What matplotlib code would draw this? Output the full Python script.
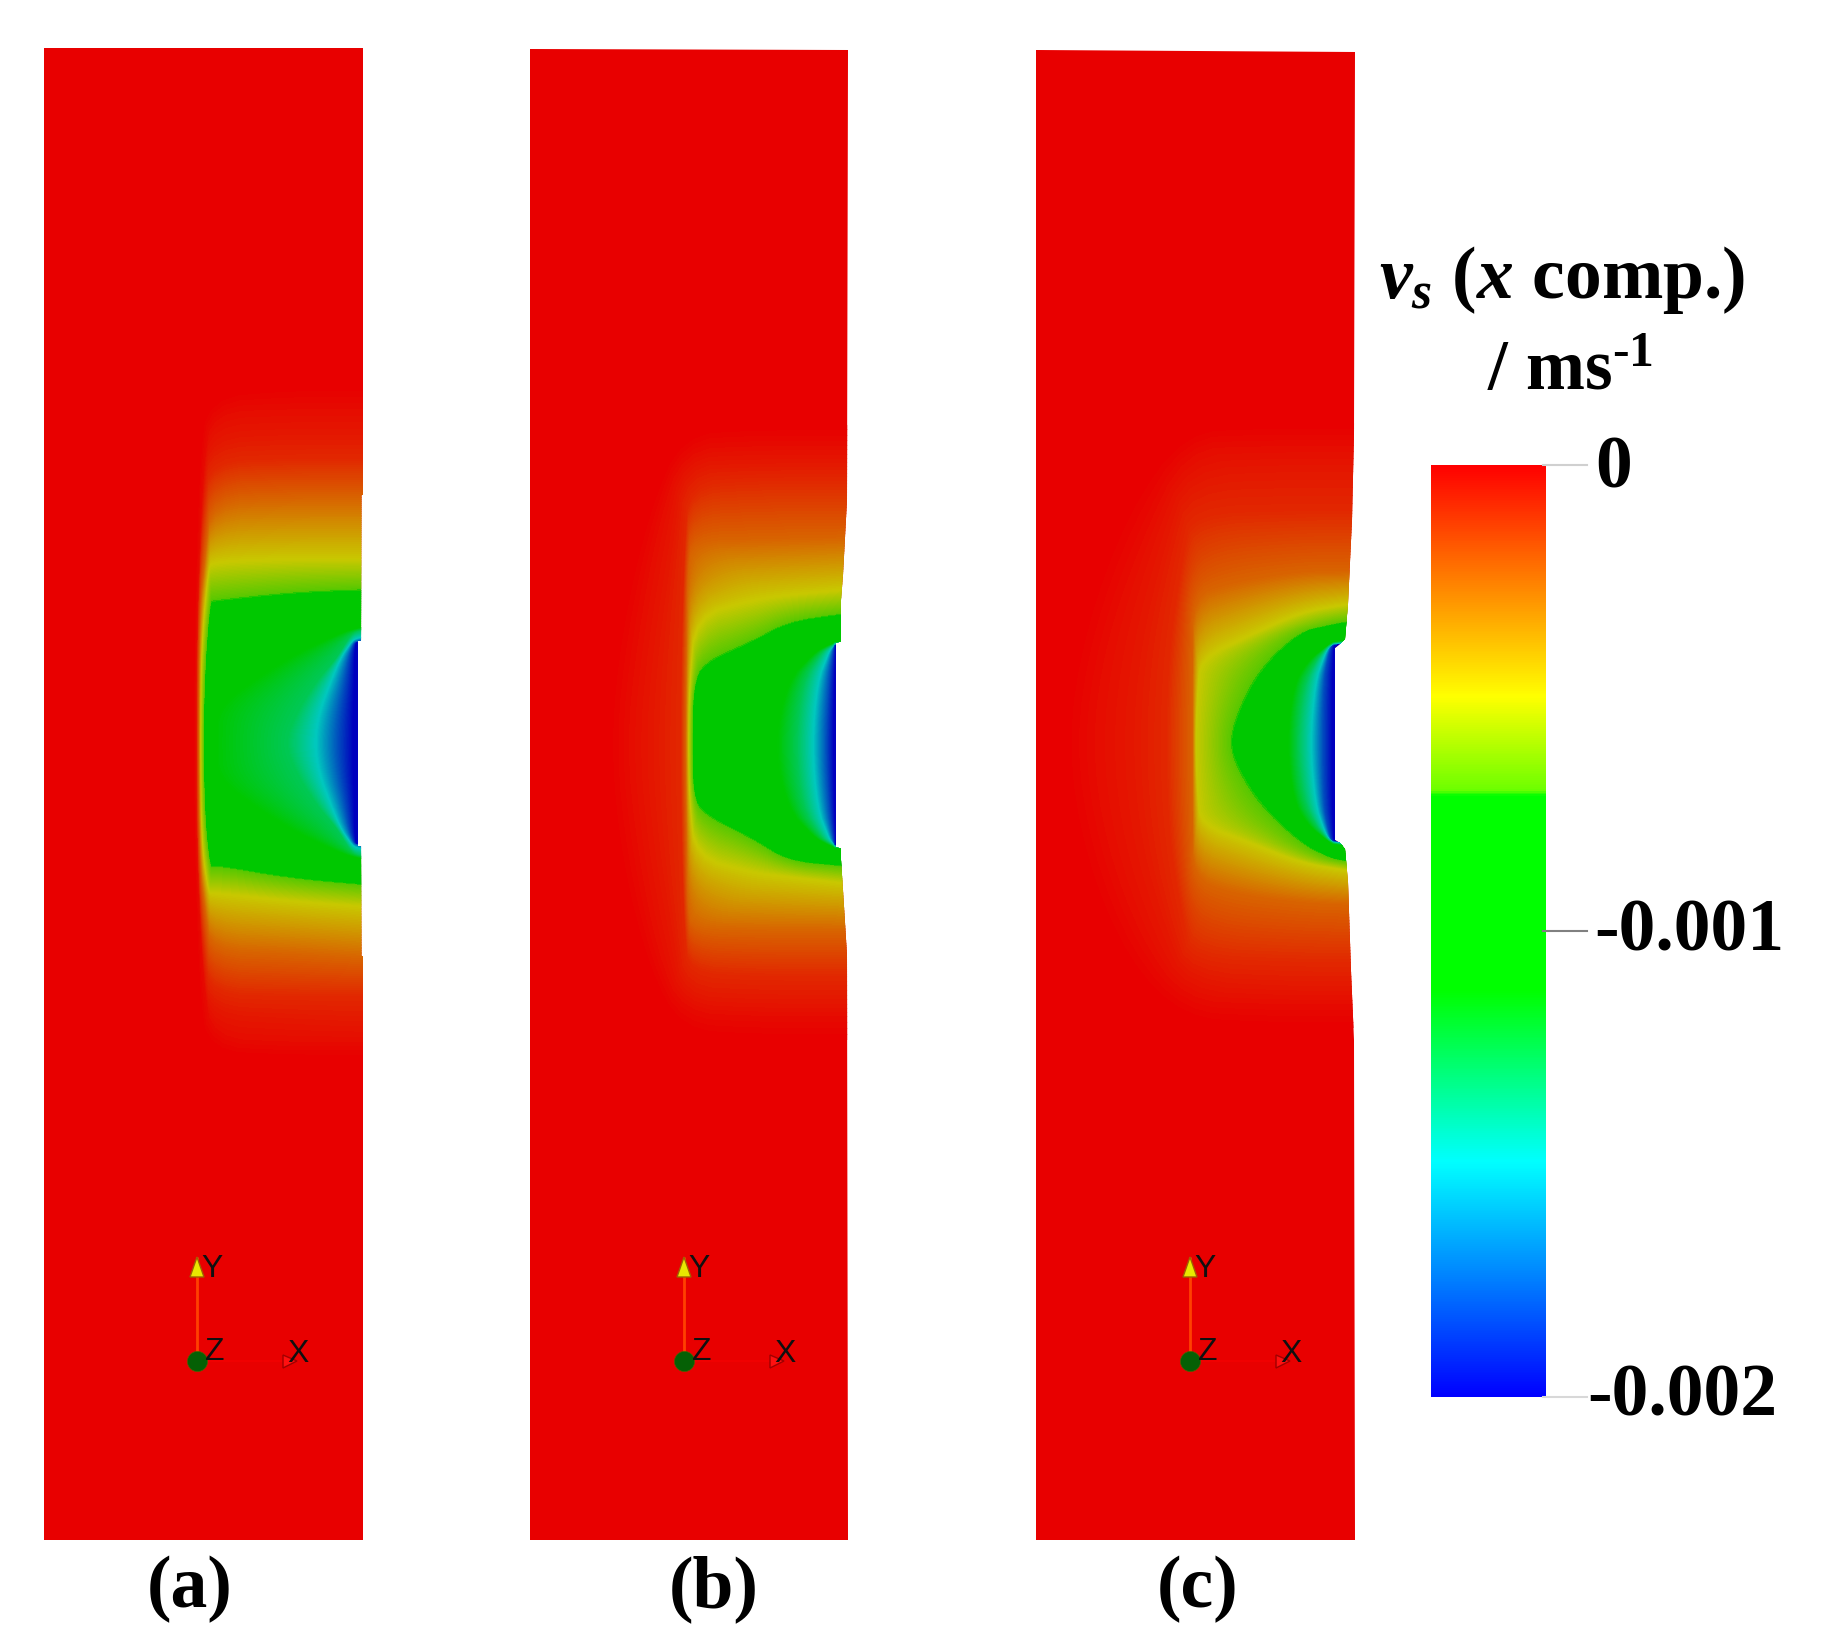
import numpy as np
import matplotlib
matplotlib.use("Agg")
import matplotlib.pyplot as plt
from matplotlib.cm import ScalarMappable
from matplotlib.colors import LinearSegmentedColormap, Normalize
from matplotlib.patches import Polygon

plt.rcParams['font.family'] = ['Liberation Serif', 'DejaVu Serif']
plt.rcParams['mathtext.fontset'] = 'custom'
plt.rcParams['mathtext.rm'] = 'Liberation Serif:bold'
plt.rcParams['mathtext.it'] = 'Liberation Serif:italic:bold'
plt.rcParams['mathtext.bf'] = 'Liberation Serif:bold'

W, H = 1829, 1644

# field levels in 1e-3 m/s, each level has one contour in the tables below
LEVELS = [0, -0.03, -0.06, -0.1, -0.25, -0.5, -0.71, -1.13, -1.29, -1.5, -1.8, -2, -2]

# contour vertices as distance left of and above/below the notch centre
A_DX = [[175, 174, 170, 162, 80, 15, 0],
        [173, 172, 165, 156, 80, 15, 0],
        [172, 171, 165, 157, 80, 15, 0],
        [172, 171, 165, 157, 80, 15, 0],
        [170, 169, 163, 157, 80, 15, 0],
        [168, 167, 160, 156, 80, 15, 0],
        [165, 163, 158, 155, 80, 15, 0],
        [151, 150, 110, 70, 28, 13, 0],
        [83, 72, 52, 32, 20, 13, 0],
        [53, 49, 38, 28, 18, 13, 0],
        [31, 29, 24, 20, 16, 13, 0],
        [15, 15, 14, 14, 13, 12, 0],
        [0, 0, 0, 0, 0, 0, 0]]
A_DY_UP = [[0, 130, 280, 350, 358, 358, 358],
           [0, 130, 280, 332, 335, 335, 335],
           [0, 130, 260, 306, 310, 310, 310],
           [0, 130, 240, 282, 285, 285, 285],
           [0, 130, 190, 242, 245, 245, 245],
           [0, 100, 175, 181, 184, 184, 184],
           [0, 80, 141, 142, 150, 153, 153],
           [0, 35, 65, 90, 110, 115, 117],
           [0, 30, 62, 85, 105, 112, 114],
           [0, 30, 60, 85, 100, 105, 107],
           [0, 30, 60, 85, 98, 102, 103],
           [0, 30, 60, 85, 98, 102, 102],
           [0, 30, 60, 85, 98, 102, 102]]
A_DY_LOW = [[0, 120, 250, 312, 316, 316, 316],
            [0, 120, 240, 296, 300, 300, 300],
            [0, 120, 230, 272, 277, 280, 280],
            [0, 120, 210, 252, 254, 254, 254],
            [0, 120, 170, 208, 211, 215, 216],
            [0, 100, 150, 150, 158, 163, 164],
            [0, 80, 125, 122, 135, 141, 142],
            [0, 35, 65, 90, 110, 115, 117],
            [0, 30, 62, 85, 105, 112, 114],
            [0, 30, 60, 85, 100, 105, 107],
            [0, 30, 60, 85, 98, 102, 103],
            [0, 30, 60, 85, 98, 102, 102],
            [0, 30, 60, 85, 98, 102, 102]]

B_DX = [[247, 235, 205, 170, 99, 12, 0],
        [227, 215, 195, 170, 99, 12, 0],
        [202, 195, 180, 170, 99, 12, 0],
        [172, 171, 168, 163, 99, 12, 0],
        [167, 166, 165, 160, 99, 12, 0],
        [164, 163, 157, 99, 65, 12, 0],
        [160, 159, 149, 99, 65, 12, 0],
        [77, 65, 39, 25, 19, 18, 0],
        [57, 50, 32, 24, 19, 18, 0],
        [40, 35, 24, 21, 18, 17, 0],
        [27, 24, 20, 19, 18, 17, 0],
        [19, 18, 17, 17, 17, 16, 0],
        [0, 0, 0, 0, 0, 0, 0]]
B_DY_UP = [[0, 120, 240, 315, 320, 320, 320],
           [0, 110, 220, 296, 300, 300, 300],
           [0, 100, 200, 280, 283, 283, 283],
           [0, 100, 200, 260, 265, 265, 265],
           [0, 100, 170, 204, 206, 208, 208],
           [0, 60, 129, 145, 150, 155, 156],
           [0, 59, 82, 104, 123, 131, 132],
           [0, 63, 92, 100, 102, 104, 104],
           [0, 63, 92, 98, 101, 103, 103],
           [0, 63, 92, 97, 100, 102, 102],
           [0, 63, 92, 97, 100, 101, 101],
           [0, 63, 92, 97, 100, 101, 101],
           [0, 63, 92, 97, 100, 101, 101]]
B_DY_LOW = [[0, 120, 230, 290, 295, 295, 295],
            [0, 110, 210, 268, 272, 272, 272],
            [0, 100, 190, 252, 256, 256, 256],
            [0, 100, 190, 228, 232, 232, 232],
            [0, 100, 160, 184, 186, 186, 186],
            [0, 55, 112, 128, 132, 138, 139],
            [0, 51, 69, 94, 116, 121, 122],
            [0, 63, 92, 100, 102, 104, 104],
            [0, 63, 92, 98, 101, 103, 103],
            [0, 63, 92, 97, 100, 102, 102],
            [0, 63, 92, 97, 100, 101, 101],
            [0, 63, 92, 97, 100, 101, 101],
            [0, 63, 92, 97, 100, 101, 101]]

C_DX = [[300, 280, 235, 175, 100, 12, 0],
        [269, 255, 220, 175, 100, 12, 0],
        [229, 220, 195, 172, 59, 12, 0],
        [194, 190, 176, 168, 59, 12, 0],
        [167, 167, 166, 130, 59, 12, 0],
        [164, 162, 159, 109, 59, 12, 0],
        [129, 122, 99, 59, 30, 16, 0],
        [72, 66, 52, 32, 29, 26, 0],
        [62, 56, 44, 32, 28, 25, 0],
        [49, 44, 36, 32, 28, 25, 0],
        [37, 36, 32, 29, 27, 25, 0],
        [27, 27, 26, 26, 25, 24, 0],
        [0, 0, 0, 0, 0, 0, 0]]
C_DY_UP = [[0, 120, 240, 316, 320, 320, 320],
           [0, 100, 200, 295, 298, 298, 298],
           [0, 100, 200, 270, 274, 274, 274],
           [0, 100, 190, 230, 233, 233, 233],
           [0, 80, 147, 160, 172, 172, 173],
           [0, 50, 84, 108, 131, 139, 140],
           [0, 29, 74, 112, 118, 121, 122],
           [0, 57, 82, 98, 100, 102, 104],
           [0, 57, 82, 97, 99, 101, 103],
           [0, 61, 85, 94, 98, 100, 101],
           [0, 61, 85, 96, 98, 99, 100],
           [0, 61, 85, 96, 98, 99, 100],
           [0, 61, 85, 96, 98, 99, 100]]
C_DY_LOW = [[0, 120, 225, 280, 285, 285, 285],
            [0, 100, 195, 258, 262, 262, 262],
            [0, 100, 185, 240, 245, 245, 245],
            [0, 100, 180, 216, 220, 220, 220],
            [0, 80, 135, 150, 160, 162, 163],
            [0, 50, 81, 100, 120, 128, 130],
            [0, 24, 61, 100, 115, 118, 120],
            [0, 57, 82, 98, 100, 102, 104],
            [0, 57, 82, 97, 99, 101, 103],
            [0, 61, 85, 94, 98, 100, 101],
            [0, 61, 85, 96, 98, 99, 100],
            [0, 61, 85, 96, 98, 99, 100],
            [0, 61, 85, 96, 98, 99, 100]]

# deformed right-hand boundary of each sample, top to bottom
A_EDGE_X = [363, 363, 361.5, 361, 358, 358, 361, 361.5, 363, 363]
A_EDGE_Y = [48, 495, 495, 641, 641, 846, 846, 956, 956, 1540]
B_EDGE_X = [848, 847, 843, 841, 841, 836, 836, 841, 841, 843, 847, 848]
B_EDGE_Y = [50, 500, 575, 600, 641, 643, 847, 849, 860, 890, 955, 1540]
C_EDGE_X = [1355, 1354, 1352, 1348, 1345, 1340, 1335, 1335, 1340, 1345, 1348, 1351, 1354, 1355]
C_EDGE_Y = [52, 433, 520, 604, 639, 644, 648, 840, 843, 849, 882, 971, 1040, 1540]

PANELS = [("(a)", 44, 368, 743, A_DX, A_DY_UP, A_DY_LOW, A_EDGE_X, A_EDGE_Y, 48, 190),
          ("(b)", 530, 852, 745, B_DX, B_DY_UP, B_DY_LOW, B_EDGE_X, B_EDGE_Y, 49, 714),
          ("(c)", 1036, 1359, 743, C_DX, C_DY_UP, C_DY_LOW, C_EDGE_X, C_EDGE_Y, 50, 1198)]

CB_TICKS = [0, -0.001, -0.002]
CB_LABELS = ["0", "-0.001", "-0.002"]
CB_TICK_COLORS = ["#d0d0d0", "#808080", "#d8d8d8"]
TRIAD_X = [197, 684, 1190]

# colour stops, 0 = most negative end
STOPS = [0, 0.252, 0.436, 0.645, 0.652, 0.752, 1]
BAR_COLORS = ["#0000ff", "#00ffff", "#00ff00", "#00ff00", "#6eff00", "#ffff00", "#ff0000"]
FIELD_COLORS = ["#0000be", "#00c8be", "#00c800", "#00c800", "#5ac800", "#c8c800", "#e80000"]

bar_cmap = LinearSegmentedColormap.from_list("bar", list(zip(STOPS, BAR_COLORS)), N=512)
field_cmap = LinearSegmentedColormap.from_list("field", list(zip(STOPS, FIELD_COLORS)), N=512)


def round_corners(P, passes=2):
    # corner cutting along each contour, first and last vertex stay put
    for _ in range(passes):
        a = 0.75 * P[:, :-1] + 0.25 * P[:, 1:]
        b = 0.25 * P[:, :-1] + 0.75 * P[:, 1:]
        mid = np.empty((P.shape[0], 2 * (P.shape[1] - 1)))
        mid[:, ::2] = a
        mid[:, 1::2] = b
        P = np.hstack([P[:, :1], mid, P[:, -1:]])
    return P


def draw_panel(ax, left, cx, cy, dx, dy_up, dy_low, edge_x, edge_y, top, levels):
    dx = np.array(dx, dtype=float)
    dy_up = np.array(dy_up, dtype=float)
    dy_low = np.array(dy_low, dtype=float)
    X = round_corners(cx - np.hstack([dx[:, ::-1], dx[:, 1:]]))
    Y = round_corners(cy + np.hstack([-dy_up[:, ::-1], dy_low[:, 1:]]))
    Z = np.repeat(np.array(LEVELS)[:, None], X.shape[1], axis=1)

    outline = [(left, 1540), (left, top)] + list(zip(edge_x, edge_y))
    shape = Polygon(outline, closed=True, facecolor=field_cmap(1.0), edgecolor='none', zorder=1)
    ax.add_patch(shape)
    cs = ax.contourf(X, Y, Z, levels=levels, cmap=field_cmap, vmin=-2, vmax=0, zorder=2)
    cs.set_clip_path(shape)


def draw_triad(ax, x):
    y = 1361
    ax.plot([x, x], [y, y - 104], color="#ff4000", lw=2, zorder=3, solid_capstyle='butt')
    ax.plot([x, x + 86], [y, y], color="#f00000", lw=1.5, zorder=3, solid_capstyle='butt')
    ax.add_patch(Polygon([(x, y - 104), (x - 7, y - 84), (x + 7, y - 84)], facecolor="#e8e800",
                         edgecolor="#a06000", lw=1, zorder=4))
    ax.add_patch(Polygon([(x + 100, y), (x + 86, y - 6), (x + 86, y + 7)], facecolor="#ff1010",
                         edgecolor="#a00000", lw=1, zorder=4))
    ax.scatter([x], [y], s=210, color="#056005", edgecolors="#506000", linewidths=0.5, zorder=5)
    for label, ox, oy in [("Y", 15, -92), ("Z", 18, -9), ("X", 101, -7)]:
        ax.text(x + ox, y + oy, label, family='Liberation Sans', fontsize=23, color='#101010',
                ha='center', va='center', zorder=6)


def main():
    fig = plt.figure(figsize=(W / 100, H / 100), dpi=100, facecolor='white')
    ax = fig.add_axes([0, 0, 1, 1])
    ax.set_xlim(0, W)
    ax.set_ylim(H, 0)
    ax.axis('off')

    levels = np.linspace(-2.0005, 0.0005, 257)
    for (label, left, cx, cy, dx, up, low, ex, ey, top, lx), tx in zip(PANELS, TRIAD_X):
        draw_panel(ax, left, cx, cy, dx, up, low, ex, ey, top, levels)
        draw_triad(ax, tx)
        ax.text(lx, 1607, label, fontsize=53, fontweight='bold', ha='center', va='baseline')

    ax.text(1562, 298, r"$\mathit{v}_{\mathit{s}}$ ($\mathit{x}$ comp.)", fontsize=53,
            fontweight='bold', ha='center', va='baseline')
    ax.text(1570, 390, r"/ ms$^{\text{-1}}$", fontsize=51, fontweight='bold',
            ha='center', va='baseline')

    cax = fig.add_axes([1431 / W, 1 - 1397 / H, 115 / W, 932 / H])
    sm = ScalarMappable(norm=Normalize(-0.002, 0), cmap=bar_cmap)
    cb = fig.colorbar(sm, cax=cax)
    cb.outline.set_visible(False)
    cb.set_ticks(CB_TICKS)
    cb.set_ticklabels([])
    cb.ax.tick_params(length=0)

    trans = cax.get_yaxis_transform()
    label_x = [1.43, 1.42, 1.36]
    label_dy = [-0.00001, -0.000003, -0.000001]
    for v, lab, c, lx, ldy in zip(CB_TICKS, CB_LABELS, CB_TICK_COLORS, label_x, label_dy):
        cax.plot([0.97, 1.36], [v, v], transform=trans, color=c, lw=1.5, clip_on=False)
        cax.text(lx, v + ldy, lab, transform=trans, fontsize=53, fontweight='bold',
                 ha='left', va='center', clip_on=False)
    cax.set_ylim(-0.002, 0)

    fig.savefig("out.png", dpi=100)


if __name__ == "__main__":
    main()
